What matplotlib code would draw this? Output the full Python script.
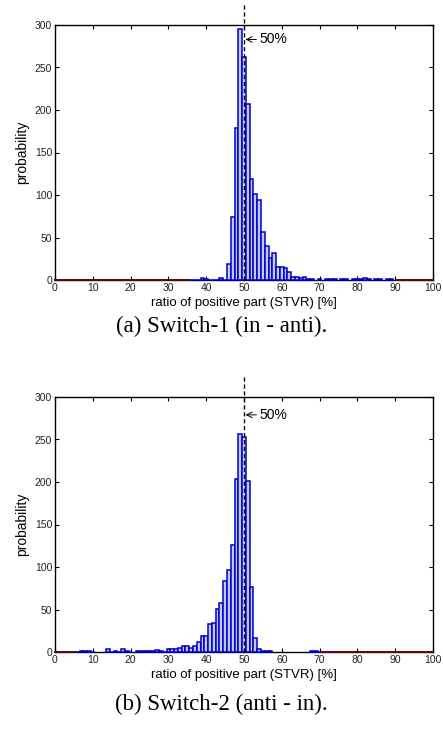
import matplotlib.pyplot as plt

# histogram counts, bins of width 1 centred on the integer values
bins_a = list(range(36, 91))
counts_a = [0.5, 0.5, 0.5, 2, 1, 0.5, 0.5, 0.5, 2, 0.5,
            19, 74, 179, 295, 262, 207, 119, 101, 94, 57,
            40, 26, 32, 15, 15, 14, 9, 3, 4, 2,
            4, 1, 1, 0, 1, 0, 1, 1, 1, 0,
            1, 1, 0, 1, 1, 1, 2, 1, 0, 1,
            1, 0, 1, 1, 0]

bins_b = list(range(6, 71))
counts_b = [0.5, 1, 1, 1, 0.5, 0, 0, 0, 3, 0.5,
            1, 0.5, 3, 1, 0.5, 0, 1, 1, 1, 1,
            1, 2, 1, 0.5, 3.5, 3.5, 4, 5, 7.5, 6.7,
            5, 7.5, 12, 18.5, 18.5, 33, 34, 51, 58, 84,
            97, 126, 203, 256, 253, 201, 76, 16, 4, 1,
            1, 1, 0, 0, 0, 0, 0, 0, 0, 0,
            0, 0, 1, 1, 0.5]

captions = ["(a) Switch-1 (in - anti).", "(b) Switch-2 (anti - in)."]
xlabel = "ratio of positive part (STVR) [%]"
ylabel = "probability"

W, H = 443, 731
fig = plt.figure(figsize=(W / 100, H / 100), dpi=100)
plt.rcParams['font.family'] = ['Liberation Sans', 'DejaVu Sans']

panels = [(bins_a, counts_a, 25, 283), (bins_b, counts_b, 397, 279)]
cap_y = [326, 704]

for i, (bins, counts, top_px, ann_y) in enumerate(panels):
    ax = fig.add_axes([55 / W, 1 - (top_px + 255) / H, 378 / W, 255 / H])
    # baseline outside the data range
    ax.plot([0, bins[0] - 0.5], [0, 0], color='#5c0808', lw=1.4, zorder=3,
            clip_on=False)
    ax.plot([bins[-1] + 0.5, 100], [0, 0], color='#5c0808', lw=1.4, zorder=3,
            clip_on=False)
    xs = [b for b, c in zip(bins, counts) if c > 0]
    hs = [c for c in counts if c > 0]
    ax.bar(xs, hs, width=1.0, facecolor='#c2caf4', edgecolor='#0000cc',
           linewidth=1.1, zorder=3, clip_on=False)
    ax.plot([50, 50], [0, 323], color='black', ls='--', lw=1.0,
            dashes=(3, 2), clip_on=False, zorder=4)
    ax.annotate('50%', xy=(50.4, ann_y), xytext=(54.0, ann_y),
                va='center', ha='left', fontsize=10,
                arrowprops=dict(arrowstyle='->', lw=0.7, color='black',
                                shrinkA=0, shrinkB=0))
    ax.set_xlim(0, 100)
    ax.set_ylim(0, 300)
    ax.set_xticks(range(0, 101, 10))
    ax.set_yticks(range(0, 301, 50))
    ax.tick_params(direction='in', top=True, right=True, labelsize=7.5,
                   length=3, width=0.8, pad=2, labelcolor='#222222')
    for s in ax.spines.values():
        s.set_linewidth(1.0)
    ax.set_xlabel(xlabel, fontsize=9.5, labelpad=3)
    ax.set_ylabel(ylabel, fontsize=10, labelpad=4)
    fig.text(0.5, 1 - cap_y[i] / H, captions[i], ha='center', va='center',
             fontsize=16.5, family=['Liberation Serif', 'DejaVu Serif'])

fig.savefig('out.png', dpi=100)
